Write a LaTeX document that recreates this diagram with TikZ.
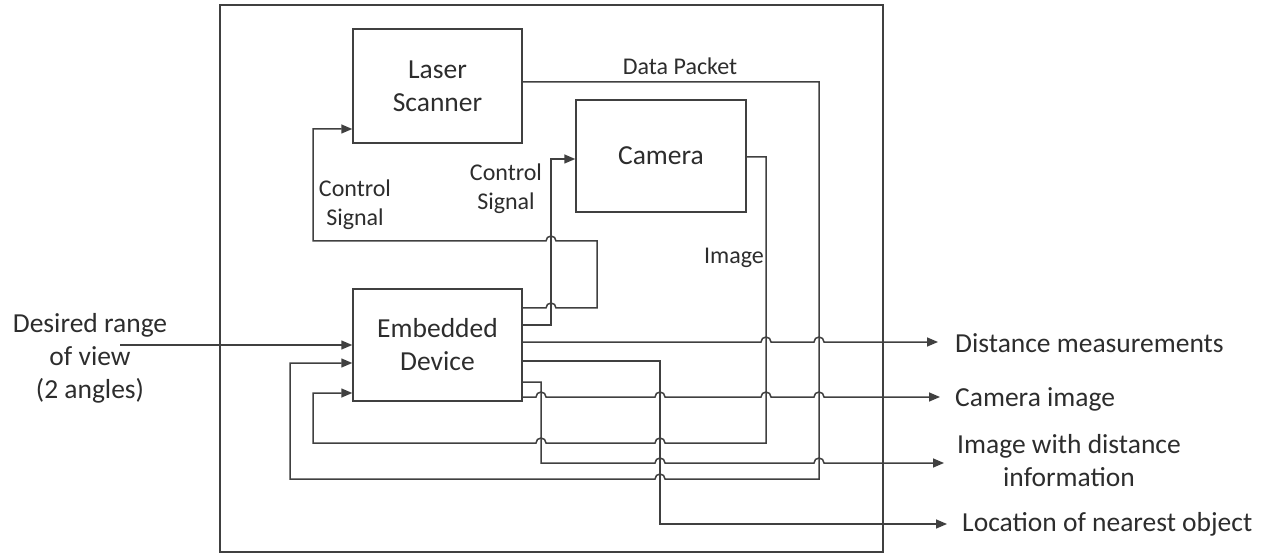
\documentclass[tikz,border=0pt]{standalone}
\usepackage{fontspec}
\setmainfont{Carlito}
\usetikzlibrary{arrows.meta}
\definecolor{linegray}{RGB}{64,64,64}
\definecolor{textgray}{RGB}{45,45,45}
% line hop over a vertical wire, left-to-right and right-to-left
\def\hop(#1,#2){-- (#1-5,#2) arc[start angle=180,end angle=0,radius=5pt]}
\def\hopl(#1,#2){-- (#1+5,#2) arc[start angle=0,end angle=180,radius=5pt]}
\begin{document}
\begin{tikzpicture}[x=1pt,y=-1pt,
  wire/.style={draw=linegray,line width=1.5pt},
  arr/.style={wire,-{Triangle[length=11pt,width=9pt]}},
  block/.style={draw=linegray,line width=1.5pt,fill=white,anchor=center,align=center,
    text=textgray,font=\fontsize{27.5}{33}\selectfont,inner sep=0pt},
  big/.style={text=textgray,align=center,inner sep=0pt,font=\fontsize{27.5}{33}\selectfont},
  small/.style={text=textgray,align=center,inner sep=0pt,font=\fontsize{24}{29}\selectfont}]
\useasboundingbox (0,0) rectangle (1269,553);

% enclosing system frame
\node[draw=linegray,line width=1.5pt,minimum width=663pt,minimum height=547pt,inner sep=0pt]
  (frame) at (551.5,278.5) {};

% functional blocks
\node[block,minimum width=169pt,minimum height=114pt] (laser) at (437.5,86) {Laser\\Scanner};
\node[block,minimum width=170pt,minimum height=112pt] (cam) at (661,156) {Camera};
\node[block,minimum width=169pt,minimum height=112pt] (emb) at (437.5,345) {Embedded\\Device};

% external inputs and outputs
\node[big] (desired) at (90,358) {Desired range\\of view\\(2 angles)};
\node[big,anchor=west] (odist) at (955,343) {Distance measurements};
\node[big,anchor=west] (ocam) at (955,399) {Camera image};
\node[big] (oimg) at (1069,461) {Image with distance\\information};
\node[big,anchor=west] (oloc) at (962,524) {Location of nearest object};

% wire labels
\node[small] (lpacket) at (680,66) {Data Packet};
\node[small] (lctrl1) at (355,205) {Control\\Signal};
\node[small] (lctrl2) at (506,189) {Control\\Signal};
\node[small] (limage) at (734,258) {Image};

% end points of the outgoing arrows
\coordinate (tdist) at (938,342);
\coordinate (tcam) at (940,397);
\coordinate (timg) at (944,463);
\coordinate (tloc) at (947,524);
\coordinate (src) at (120,345);

% input to the embedded device
\draw[arr] (src) -- (src -| emb.west);

% laser scanner data packet fed back to the device
\draw[arr] (laser.east |- 0,82) -- (819,82) -- (819,479) \hopl(660,479) -- (290,479)
  -- (290,363) -- (emb.west |- 0,363);

% camera image fed back to the device
\draw[arr] (cam.east |- 0,157) -- (766,157) -- (766,443) \hopl(660,443) \hopl(541,443)
  -- (313,443) -- (313,393) -- (emb.west |- 0,393);

% control signal to the laser scanner
\draw[arr] (emb.east |- 0,308) \hop(551,308) -- (597,308) -- (597,241) \hopl(551,241)
  -- (313,241) -- (313,129) -- (laser.west |- 0,129);

% control signal to the camera
\draw[arr] (emb.east |- 0,325) -- (551,325) -- (551,159) -- (cam.west |- 0,159);

% outputs of the embedded device
\draw[arr] (emb.east |- 0,342) \hop(766,342) \hop(819,342) -- (tdist);
\draw[arr] (emb.east |- 0,361) -- (660,361) -- (660,524) -- (tloc);
\draw[arr] (emb.east |- 0,382) -- (541,382) -- (541,463) \hop(660,463) \hop(819,463) -- (timg);
\draw[arr] (emb.east |- 0,397) \hop(541,397) \hop(660,397) \hop(766,397) \hop(819,397) -- (tcam);
\end{tikzpicture}
\end{document}
